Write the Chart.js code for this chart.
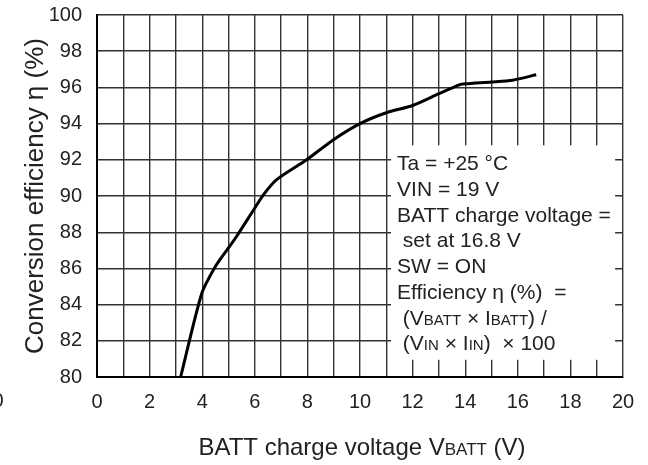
<!DOCTYPE html>
<html>
<head>
<meta charset="utf-8">
<script src="https://cdn.jsdelivr.net/npm/chart.js"></script>
<style>
  html, body { margin: 0; padding: 0; background: #fff; }
  #wrap { width: 648px; height: 465px; }
</style>
</head>
<body>
<div id="wrap"><canvas id="chart" width="648" height="465"></canvas></div>
<script>
// данные
const voltage = [3.18, 3.98, 4.5, 4.93, 5.3, 5.94, 6.32, 6.83, 7.97, 8.98, 10, 11, 12, 13, 13.8, 14, 15, 15.8, 16.7];
const efficiency = [80, 84.6, 86.1, 87.0, 87.75, 89.2, 90.05, 90.9, 92.0, 93.1, 94.0, 94.6, 95.0, 95.65, 96.15, 96.2, 96.3, 96.4, 96.7];
const xTicks = [0, 2, 4, 6, 8, 10, 12, 14, 16, 18, 20];
const yTicks = [80, 82, 84, 86, 88, 90, 92, 94, 96, 98, 100];

// текст в рамке: [строка, мелкий шрифт?]
const noteLines = [
  [['Ta = +25 °C', false]],
  [['VIN = 19 V', false]],
  [['BATT charge voltage =', false]],
  [[' set at 16.8 V', false]],
  [['SW = ON', false]],
  [['Efficiency η (%)  =', false]],
  [[' (V', false], ['BATT', true], [' × I', false], ['BATT', true], [') /', false]],
  [[' (V', false], ['IN', true], [' × I', false], ['IN', true], [')  × 100', false]]
];

const FONT = '"Liberation Sans", Arial, sans-serif';
const TEXT = '#222';

function drawParts(ctx, parts, x, y, big, small) {
  let cx = x;
  parts.forEach(([t, s]) => {
    ctx.font = (s ? small : big) + 'px ' + FONT;
    ctx.fillText(t, cx, y);
    cx += ctx.measureText(t).width;
  });
}
function partsWidth(ctx, parts, big, small) {
  let w = 0;
  parts.forEach(([t, s]) => {
    ctx.font = (s ? small : big) + 'px ' + FONT;
    w += ctx.measureText(t).width;
  });
  return w;
}

// белая рамка с условиями
const notePlugin = {
  id: 'note',
  beforeDatasetsDraw(chart) {
    const ctx = chart.ctx;
    const x = chart.scales.x, y = chart.scales.y;
    ctx.save();
    ctx.fillStyle = '#fff';
    const l = x.getPixelForValue(11.18), r = x.getPixelForValue(19.7);
    const t = y.getPixelForValue(92.8), b = y.getPixelForValue(80.95);
    ctx.fillRect(l, t, r - l, b - t);
    ctx.fillStyle = TEXT;
    ctx.textBaseline = 'alphabetic';
    noteLines.forEach((parts, i) => {
      drawParts(ctx, parts, l + 6, t + 25 + i * 25.7, 21, 15);
    });
    ctx.restore();
  },
  afterDraw(chart) {
    const ctx = chart.ctx;
    const area = chart.chartArea;
    ctx.save();
    ctx.fillStyle = TEXT;
    // заголовок оси Y
    ctx.translate(36, (area.top + area.bottom) / 2);
    ctx.rotate(-Math.PI / 2);
    ctx.font = '26px ' + FONT;
    ctx.textAlign = 'center';
    ctx.textBaseline = 'middle';
    ctx.fillText('Conversion efficiency η (%)', 0, 0);
    ctx.restore();

    // заголовок оси X
    ctx.save();
    ctx.fillStyle = TEXT;
    ctx.textBaseline = 'alphabetic';
    const xt = [['BATT charge voltage V', false], ['BATT', true], [' (V)', false]];
    const w = partsWidth(ctx, xt, 24, 17);
    drawParts(ctx, xt, (area.left + area.right) / 2 + 2 - w / 2, 455, 24, 17);
    // обрезанная цифра слева
    ctx.font = '20px ' + FONT;
    ctx.textAlign = 'center';
    ctx.textBaseline = 'middle';
    ctx.fillText('0', -2, 401);
    ctx.restore();
  }
};

new Chart(document.getElementById('chart'), {
  type: 'line',
  data: {
    datasets: [{
      data: voltage.map((v, i) => ({ x: v, y: efficiency[i] })),
      borderColor: '#000',
      borderWidth: 3,
      pointRadius: 0,
      tension: 0.25,
      fill: false
    }]
  },
  options: {
    responsive: false,
    animation: false,
    events: [],
    layout: { padding: { top: 15, right: 25, left: 0, bottom: 0 } },
    plugins: { legend: { display: false }, tooltip: { enabled: false } },
    scales: {
      x: {
        type: 'linear',
        min: 0, max: 20,
        afterBuildTicks: s => { s.ticks = Array.from({ length: 21 }, (_, i) => ({ value: i })); },
        afterFit: s => { s.height = 88; s.paddingLeft = 0; s.paddingRight = 0; },
        ticks: {
          autoSkip: false, maxRotation: 0, padding: 13,
          color: TEXT, font: { family: FONT, size: 20 },
          callback: v => xTicks.includes(v) ? v : ''
        },
        grid: { color: '#333', lineWidth: 1.4, drawTicks: false },
        border: { color: '#000', width: 2 }
      },
      y: {
        min: 80, max: 100,
        afterBuildTicks: s => { s.ticks = yTicks.map(v => ({ value: v })); },
        afterFit: s => { s.width = 97; s.paddingTop = 0; s.paddingBottom = 0; },
        ticks: { padding: 15, color: TEXT, font: { family: FONT, size: 20 } },
        grid: { color: '#333', lineWidth: 1.4, drawTicks: false },
        border: { color: '#000', width: 2 }
      }
    }
  },
  plugins: [notePlugin]
});
</script>
</body>
</html>
